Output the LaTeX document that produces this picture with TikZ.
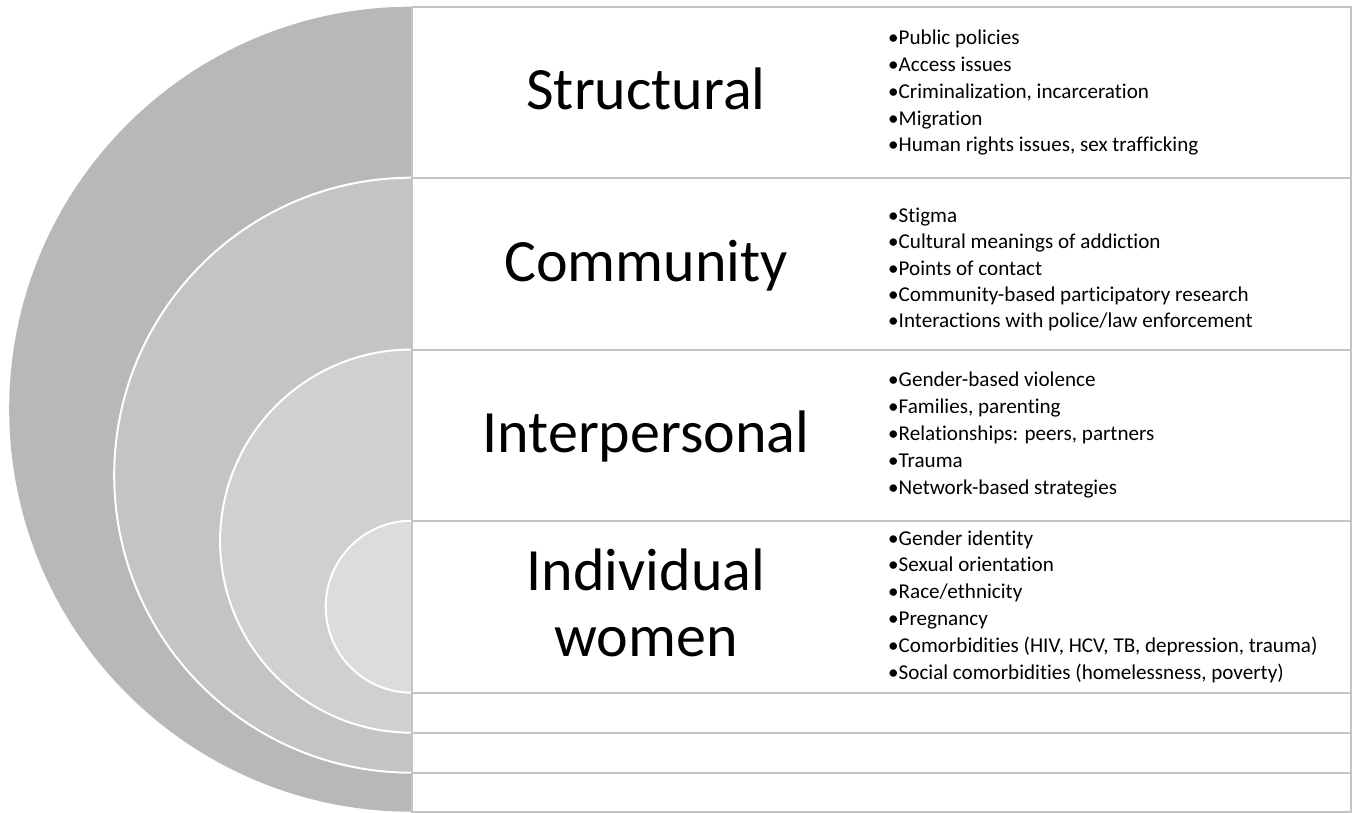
\documentclass[tikz,border=0pt]{standalone}
\usepackage{fontspec}
\setmainfont{Carlito}[Ligatures=NoCommon]
\definecolor{ringA}{HTML}{B8B8B8}
\definecolor{ringB}{HTML}{C4C4C4}
\definecolor{ringC}{HTML}{D0D0D0}
\definecolor{ringD}{HTML}{DCDCDC}
\definecolor{frameline}{HTML}{C4C4C4}
\begin{document}
\begin{tikzpicture}[x=1pt,y=-1pt,
  ring/.style={draw=white, line width=2pt},
  band/.style={draw=frameline, line width=2pt, fill=white},
  level/.style={font=\fontsize{60}{66.7}\selectfont, anchor=base, inner sep=0pt},
  entry/.style={font=\fontsize{21.1}{26.7}\selectfont, anchor=base west, inner sep=0pt},
]
\useasboundingbox[fill=white] (0,0) rectangle (1356,813);

% nested half discs, cut off at the left edge of the bands
\begin{scope}
  \clip (0,0) rectangle (411.7,813);
  \fill[ringA] (411.7,409.2) circle[radius=402.5];
  \filldraw[ring, fill=ringB] (411.7,475.2) circle[radius=297.5];
  \filldraw[ring, fill=ringC] (411.7,541.1) circle[radius=191.6];
  \filldraw[ring, fill=ringD] (411.7,606.7) circle[radius=86];
\end{scope}

% stacked bands on the right
\draw[band] (411.7,6.7)   rectangle (1350.7,177.7);
\draw[band] (411.7,177.7) rectangle (1350.7,349.5);
\draw[band] (411.7,349.5) rectangle (1350.7,520.7);
\draw[band] (411.7,520.7) rectangle (1350.7,692.7);
\draw[band] (411.7,692.7) rectangle (1350.7,732.7);
\draw[band] (411.7,732.7) rectangle (1350.7,772.7);
\draw[band] (411.7,772.7) rectangle (1350.7,811.7);

% level titles
\node[level] (structural) at (646,110) {Structural};
\node[level] (community) at (646,281) {Community};
\node[level] (interpersonal) at (646,452.5) {Interpersonal};
\node[level] (individual) at (646,590) {Individual};
\node[level] (women) at (646,656.7) {women};

% structural factors
\node[entry] (s1) at (888,45)    {•Public policies};
\node[entry] (s2) at (888,71.7)  {•Access issues};
\node[entry] (s3) at (888,98.4)  {•Criminalization, incarceration};
\node[entry] (s4) at (888,125.1) {•Migration};
\node[entry] (s5) at (888,151.8) {•Human rights issues, sex trafficking};

% community factors
\node[entry] (c1) at (888,222.3) {•Stigma};
\node[entry] (c2) at (888,248.6) {•Cultural meanings of addiction};
\node[entry] (c3) at (888,275)   {•Points of contact};
\node[entry] (c4) at (888,301.4) {•Community-based participatory research};
\node[entry] (c5) at (888,327.7) {•Interactions with police/law enforcement};

% interpersonal factors
\node[entry] (p1) at (888,386.7) {•Gender-based violence};
\node[entry] (p2) at (888,413.6) {•Families, parenting};
\node[entry] (p3) at (888,440.5) {•Relationships: peers, partners};
\node[entry] (p4) at (888,467.4) {•Trauma};
\node[entry] (p5) at (888,494.3) {•Network-based strategies};

% individual factors
\node[entry] (i1) at (888,545)   {•Gender identity};
\node[entry] (i2) at (888,571.8) {•Sexual orientation};
\node[entry] (i3) at (888,598.6) {•Race/ethnicity};
\node[entry] (i4) at (888,625.4) {•Pregnancy};
\node[entry] (i5) at (888,652.2) {•Comorbidities (HIV, HCV, TB, depression, trauma)};
\node[entry] (i6) at (888,679)   {•Social comorbidities (homelessness, poverty)};
\end{tikzpicture}
\end{document}
